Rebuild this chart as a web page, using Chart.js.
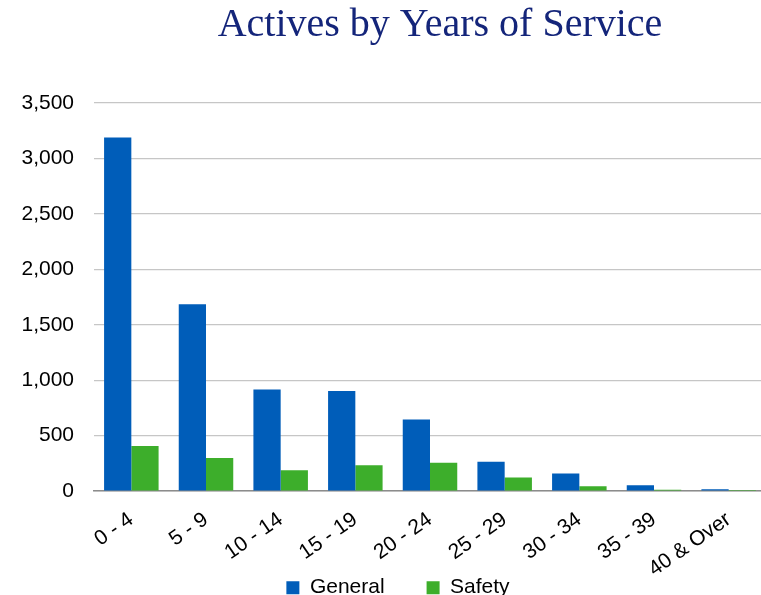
<!DOCTYPE html>
<html>
<head>
<meta charset="utf-8">
<script src="https://cdn.jsdelivr.net/npm/chart.js@4/dist/chart.umd.min.js"></script>
<style>
  html, body { margin: 0; padding: 0; background: #fff; overflow: hidden; }
</style>
</head>
<body>
<canvas id="myChart" width="770" height="663"></canvas>
<script>
// values
var categories = ["0 - 4", "5 - 9", "10 - 14", "15 - 19", "20 - 24", "25 - 29", "30 - 34", "35 - 39", "40 & Over"];
var general = [3190, 1686, 917, 902, 646, 264, 160, 54, 18];
var safety = [406, 298, 189, 234, 255, 123, 45, 12, 2];
var yTicksMax = 3500;
var yTickStep = 500;

var axisFont = { family: "'Liberation Sans', Arial, sans-serif", size: 21 };

// the legend keeps a wide gap between items, so pull it back up under the axis labels
// (and nudge legend + title a little right, like the original slide)
var tuckLegend = {
  id: "tuckLegend",
  afterLayout: function (chart) {
    var lg = chart.legend;
    var dy = chart.scales.x.top + 86 - lg.options.labels.padding - lg.top;
    lg.top += dy;
    lg.bottom += dy;
    lg.left += 15;
    lg.right += 15;
    var tb = chart.titleBlock;
    tb.left += 10;
    tb.right += 10;
  }
};

var ctx = document.getElementById("myChart").getContext("2d");
var chart = new Chart(ctx, {
  type: "bar",
  data: {
    labels: categories,
    datasets: [
      {
        label: "General",
        backgroundColor: "#005DB9",
        borderWidth: 0,
        data: general
      },
      {
        label: "Safety",
        backgroundColor: "#3DAE2B",
        borderWidth: 0,
        data: safety
      }
    ]
  },
  options: {
    responsive: false,
    animation: false,
    layout: { padding: { left: 0, right: 4, top: 0, bottom: 0 } },
    datasets: {
      bar: { categoryPercentage: 0.73, barPercentage: 1.0 }
    },
    plugins: {
      title: {
        display: true,
        text: "Actives by Years of Service",
        color: "#14257A",
        fullSize: false,
        font: { family: "'Liberation Serif', serif", size: 40, weight: "normal" },
        padding: { top: 1, bottom: 54 }
      },
      legend: {
        position: "bottom",
        labels: {
          color: "#000",
          font: axisFont,
          boxWidth: 13,
          boxHeight: 13,
          padding: 42
        }
      },
      tooltip: { enabled: false }
    },
    scales: {
      x: {
        grid: { display: false },
        border: { color: "#8C8C8C", width: 1.5 },
        ticks: {
          color: "#000",
          font: axisFont,
          minRotation: 35,
          maxRotation: 35,
          padding: 8
        }
      },
      y: {
        min: 0,
        max: yTicksMax,
        grid: { color: "#C6C6C6", lineWidth: 1.3, drawTicks: false },
        border: { display: false },
        ticks: {
          stepSize: yTickStep,
          color: "#000",
          padding: 20,
          font: axisFont,
          callback: function (v) { return v.toLocaleString("en-US"); }
        },
        afterFit: function (scale) { scale.width = 94; }
      }
    }
  },
  plugins: [tuckLegend]
});
</script>
</body>
</html>
